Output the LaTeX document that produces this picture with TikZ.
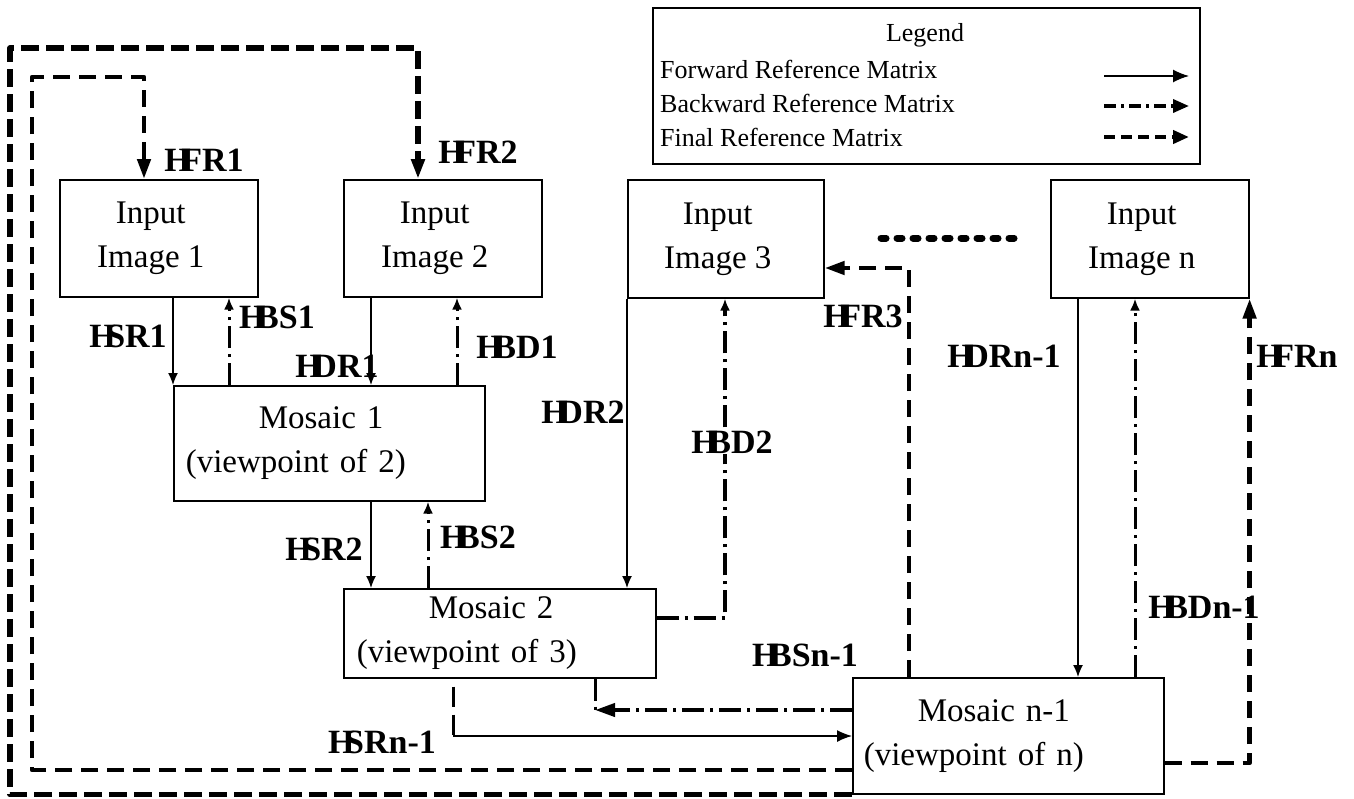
\documentclass[tikz,border=0pt]{standalone}
\usepackage{fontspec}
\setmainfont{Liberation Serif}
\usetikzlibrary{arrows.meta}
\newcommand\bxfont{\fontsize{33}{44}\selectfont}
\newcommand\lbfont{\fontsize{34}{34}\selectfont\bfseries}
\newcommand\lgfont{\fontsize{26}{30}\selectfont}
\newcommand\Hk{H\kern-0.28em}
\begin{document}
\begin{tikzpicture}[x=1pt,y=-1pt,
  box/.style={draw, line width=1.6pt, inner sep=0pt, anchor=north west, font=\bxfont, align=center},
  mbox/.style={draw, line width=1.6pt, anchor=north west, font=\bxfont, align=left, inner ysep=0pt},
  lab/.style={font=\lbfont, inner sep=1pt},
  fwd/.style={line width=1.4pt, -{Latex[length=12pt,width=10pt]}},
  bwd/.style={line width=3pt, dash pattern=on 22pt off 6pt on 3pt off 6pt, -{Latex[length=12pt,width=10pt]}},
  bwdline/.style={line width=3pt, dash pattern=on 22pt off 6pt on 3pt off 6pt},
  fin/.style={line width=4.5pt, line join=round, dash pattern=on 17pt off 9pt, -{Triangle[length=20pt,width=13pt]}},
  finline/.style={line width=3pt, dash pattern=on 20pt off 8pt},
  dotline/.style={line width=7pt, line cap=round, dash pattern=on 5pt off 11pt},
]
\useasboundingbox (0,0) rectangle (1354,798);

% helper coordinates
\coordinate (xHFRa) at (144,0);
\coordinate (xHFRb) at (418,0);
\coordinate (xHBS1) at (229,0);
\coordinate (xHDR1) at (371,0);
\coordinate (xHBD1) at (457,0);
\coordinate (xHSR2) at (371,0);
\coordinate (xHBS2) at (428,0);
\coordinate (xHBD2) at (725,0);
\coordinate (xHFR3) at (909,0);
\coordinate (xHDRn) at (1078,0);
\coordinate (xHBDn) at (1135,0);
\coordinate (xHSRn) at (453,0);
\coordinate (xHBSn) at (595,0);
\coordinate (xOuter) at (10,0);
\coordinate (xInner) at (32,0);
\coordinate (yOuter) at (0,48);
\coordinate (yInner) at (0,77);
\coordinate (yHFR3) at (0,268);
\coordinate (yHBD2) at (0,618);
\coordinate (yHBSn) at (0,710);
\coordinate (yHSRn) at (0,736);
\coordinate (yInnerB) at (0,770);
\coordinate (yHFRn) at (0,763);
\coordinate (dotA) at (881,238);
\coordinate (dotB) at (1016,238);

% legend
\node[draw, line width=1.6pt, minimum width=547pt, minimum height=156pt, anchor=north west] (legend) at (652,7) {};
\node[font=\lgfont, anchor=base] (legtitle) at (925,41) {Legend};
\node[font=\lgfont, anchor=base west, inner sep=0pt] (legF) at (660,78) {Forward Reference Matrix};
\node[font=\lgfont, anchor=base west, inner sep=0pt] (legB) at (660,112) {Backward Reference Matrix};
\node[font=\lgfont, anchor=base west, inner sep=0pt] (legN) at (660,146) {Final Reference Matrix};
\coordinate (lfA) at (1104,76); \coordinate (lfB) at (1189,76);
\coordinate (lbA) at (1104,106); \coordinate (lbB) at (1189,106);
\coordinate (lnA) at (1104,137); \coordinate (lnB) at (1189,137);
\draw[line width=1.4pt, -{Latex[length=16pt,width=13pt]}] (lfA) -- (lfB);
\draw[line width=3.5pt, dash pattern=on 12pt off 5pt on 3pt off 5pt, -{Triangle[length=16pt,width=13pt]}] (lbA) -- (lbB);
\draw[line width=4pt, dash pattern=on 11pt off 6pt, -{Triangle[length=16pt,width=13pt]}] (lnA) -- (lnB);

% boxes
\node[box, minimum width=198pt, minimum height=117pt] (img1) at (59,179) {Input\hspace*{16pt}\\Image 1\hspace*{16pt}};
\node[box, minimum width=198pt, minimum height=117pt] (img2) at (343,179) {Input\hspace*{16pt}\\Image 2\hspace*{16pt}};
\node[box, minimum width=196pt, minimum height=118pt] (img3) at (627,179) {Input\hspace*{16pt}\\Image 3\hspace*{16pt}};
\node[box, minimum width=198pt, minimum height=118pt] (imgn) at (1050,179) {Input\hspace*{16pt}\\Image n\hspace*{16pt}};
\node[mbox, inner xsep=12pt, text width=287pt, minimum height=115pt] (m1) at (173,385) {\hspace*{73pt}Mosaic 1\\(viewpoint of 2)};
\node[mbox, inner xsep=13pt, text width=286pt, minimum height=89pt] (m2) at (343,588) {\hspace*{72pt}Mosaic 2\\(viewpoint of 3)};
\node[mbox, inner xsep=11pt, text width=289pt, minimum height=116pt] (mn) at (852,677) {\hspace*{54pt}Mosaic n-1\\(viewpoint of n)};

% dotted continuation
\draw[dotline] (dotA) -- (dotB);

% forward (solid)
\draw[fwd] (img1.south -| m1.north west) -- (m1.north west);
\draw[fwd] (img2.south -| xHDR1) -- (m1.north -| xHDR1);
\draw[fwd] (m1.south -| xHSR2) -- (m2.north -| xHSR2);
\draw[fwd] (img3.south west) -- (m2.north -| img3.south west);
\draw[fwd] (imgn.south -| xHDRn) -- (mn.north -| xHDRn);

% backward (dash-dot)
\draw[bwd] (m1.north -| xHBS1) -- (img1.south -| xHBS1);
\draw[bwd] (m1.north -| xHBD1) -- (img2.south -| xHBD1);
\draw[bwd] (m2.north -| xHBS2) -- (m1.south -| xHBS2);
\draw[bwd, line width=4.5pt] (m2.east |- yHBD2) -- (xHBD2 |- yHBD2) -- (img3.south -| xHBD2);
\draw[bwd] (mn.north -| xHBDn) -- (imgn.south -| xHBDn);
\draw[bwdline] (m2.south -| xHBSn) -- (xHBSn |- yHBSn);
\draw[bwd, line width=4pt, -{Triangle[length=20pt,width=13pt]}] (mn.west |- yHBSn) -- (xHBSn |- yHBSn);

% HSRn-1
\draw[finline, dash phase=20pt] (m2.south -| xHSRn) -- (xHSRn |- yHSRn);
\draw[fwd, -{Latex[length=15pt,width=12pt]}] (xHSRn |- yHSRn) -- (mn.west |- yHSRn);

% final (dashed)
\draw[fin] (mn.north -| xHFR3) -- (xHFR3 |- yHFR3) -- (img3.east |- yHFR3);
\draw[fin] (mn.east |- yHFRn) -- (imgn.south east |- yHFRn) -- (imgn.south east);
\draw[fin] (mn.west |- yInnerB) -- (xInner |- yInnerB) -- (xInner |- yInner) -- (xHFRa |- yInner) -- (img1.north -| xHFRa);
\draw[fin, line width=5.5pt, dash pattern=on 18pt off 7pt] (mn.south west) -- (xOuter |- mn.south west) -- (xOuter |- yOuter) -- (xHFRb |- yOuter) -- (img2.north -| xHFRb);

% labels
\node[lab] (lHFR1) at (204,160) {\Hk FR1};
\node[lab] (lHFR2) at (478,152) {\Hk FR2};
\node[lab] (lHSR1) at (128,336) {\Hk SR1};
\node[lab] (lHBS1) at (277,317) {\Hk BS1};
\node[lab] (lHDR1) at (337,366) {\Hk DR1};
\node[lab] (lHBD1) at (517,347) {\Hk BD1};
\node[lab] (lHDR2) at (583,412) {\Hk DR2};
\node[lab, fill=white] (lHBD2) at (732,442) {\Hk BD2};
\node[lab] (lHFR3) at (863,316) {\Hk FR3};
\node[lab] (lHDRn) at (1004,356) {\Hk DRn-1};
\node[lab] (lHFRn) at (1297,356) {\Hk FRn};
\node[lab] (lHBDn) at (1204,607) {\Hk BDn-1};
\node[lab] (lHBSn) at (805,655) {\Hk BSn-1};
\node[lab] (lHSRn) at (382,742) {\Hk SRn-1};
\node[lab] (lHSR2) at (324,549) {\Hk SR2};
\node[lab] (lHBS2) at (478,537) {\Hk BS2};
\end{tikzpicture}
\end{document}
